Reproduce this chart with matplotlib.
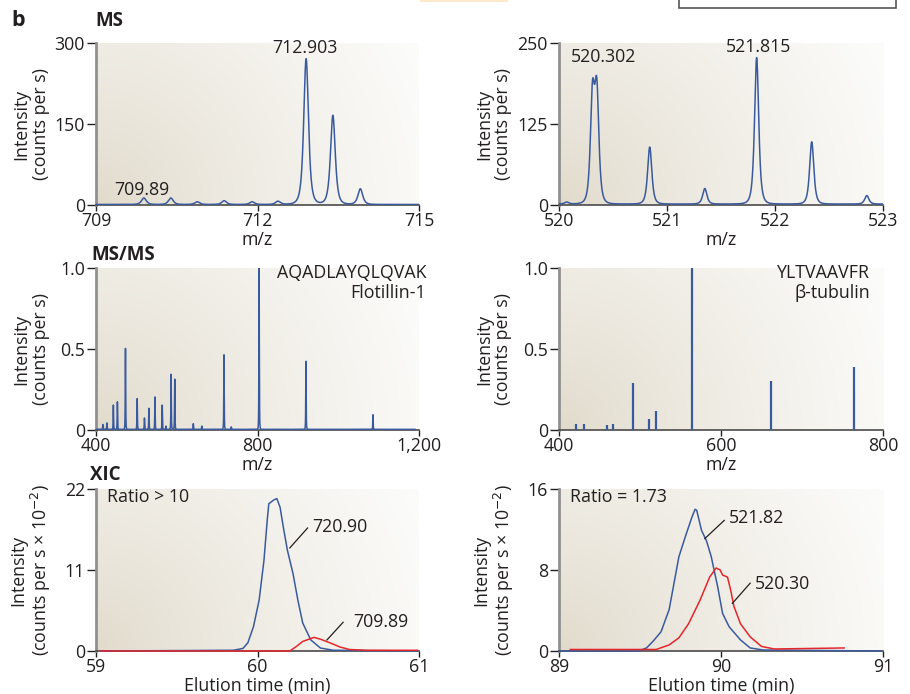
import numpy as np
import matplotlib.pyplot as plt
from matplotlib.patches import Rectangle

plt.rcParams['font.family'] = ['Open Sans', 'DejaVu Sans']
plt.rcParams['font.size'] = 12.8

INK = '#231f20'
BLUE = '#3a5a9e'
RED = '#e5262b'

# MS survey scans: peak centroids (m/z) and heights (counts per s)
ms_left_mz = [709.89, 710.39, 710.88, 711.38, 711.90, 712.38, 712.903, 713.40, 713.91]
ms_left_int = [12, 12, 5, 7, 5, 6, 270, 165, 29]
ms_right_mz = [520.07, 520.31, 520.35, 520.84, 521.35, 521.83, 522.34, 522.85]
ms_right_int = [3, 160, 165, 88, 24, 226, 96, 13]

# MS/MS fragment spectra (relative intensity)
msms_left_mz = [417, 427, 443, 453, 473, 502, 520, 531, 546, 564, 573, 586, 595,
                641, 662, 717, 735, 804, 920, 1086]
msms_left_int = [0.03, 0.04, 0.15, 0.17, 0.50, 0.19, 0.07, 0.13, 0.20, 0.15, 0.02,
                 0.34, 0.31, 0.035, 0.02, 0.46, 0.015, 1.0, 0.42, 0.09]
msms_right_mz = [420.6, 430.5, 459.4, 466.4, 491.5, 511.3, 520.0, 564.5, 661.9, 763.7]
msms_right_int = [0.04, 0.04, 0.03, 0.035, 0.29, 0.07, 0.12, 1.0, 0.30, 0.39]

# XIC traces (elution time in min, intensity in counts per s x 1e-2)
xic_left_t_720 = [59.03, 59.85, 59.91, 59.94, 59.975, 60.01, 60.04, 60.06, 60.07, 60.10,
                  60.12, 60.14, 60.16, 60.185, 60.22, 60.25, 60.28, 60.33, 60.39, 60.47, 60.99]
xic_left_i_720 = [0, 0.1, 0.35, 1.1, 3.3, 6.9, 12.3, 17.7, 20.0, 20.5,
                  20.7, 19.5, 16.8, 13.7, 10.5, 6.9, 3.8, 1.5, 0.4, 0.1, 0]
xic_left_t_709 = [59.03, 60.20, 60.24, 60.28, 60.35, 60.39, 60.45, 60.51, 60.57, 60.68, 60.99]
xic_left_i_709 = [0, 0, 0.6, 1.3, 1.85, 1.6, 1.1, 0.55, 0.2, 0.1, 0.1]

xic_right_t_521 = [89.0, 89.49, 89.54, 89.58, 89.63, 89.68, 89.74, 89.78, 89.82, 89.84, 89.85,
                   89.88, 89.91, 89.94, 89.98, 90.01, 90.05, 90.12, 90.18, 90.26, 90.99]
xic_right_i_521 = [0, 0, 0.3, 0.95, 1.9, 4.1, 9.3, 11.3, 13.2, 14.0, 13.9,
                   11.9, 10.9, 9.3, 6.3, 3.7, 2.4, 1.1, 0.3, 0.1, 0]
xic_right_t_520 = [89.07, 89.6, 89.68, 89.74, 89.80, 89.87, 89.93, 89.97, 89.995, 90.01,
                   90.04, 90.06, 90.08, 90.12, 90.18, 90.25, 90.33, 90.76]
xic_right_i_520 = [0.15, 0.15, 0.6, 1.3, 2.7, 5.0, 7.3, 8.2, 8.0, 7.5,
                   7.3, 6.0, 4.4, 2.7, 1.4, 0.45, 0.2, 0.3]

W, H = 910, 694
fig = plt.figure(figsize=(W / 100, H / 100), dpi=100)


def backdrop(rect, wpx, hpx):
    bg = fig.add_axes(rect, zorder=0)
    yy, xx = np.mgrid[0:1:160j, 0:1:320j]
    r = np.hypot(xx * wpx, yy * hpx) / np.hypot(wpx, hpx)
    t = np.clip(r / 0.95, 0, 1)[..., None] ** 0.8
    c0 = np.array([225, 218, 203]) / 255
    c1 = np.array([251, 251, 249]) / 255
    bg.imshow(c0 * (1 - t) + c1 * t, origin='lower', aspect='auto',
              extent=(0, 1, 0, 1), interpolation='bilinear')
    bg.axis('off')


def panel(x0, y0, x1, y1):
    rect = [x0 / W, 1 - y1 / H, (x1 - x0) / W, (y1 - y0) / H]
    backdrop(rect, x1 - x0, y1 - y0)
    ax = fig.add_axes(rect, zorder=1)
    ax.patch.set_alpha(0)
    ax.spines['top'].set_visible(False)
    ax.spines['right'].set_visible(False)
    ax.spines['left'].set_color('#909090')
    ax.spines['left'].set_linewidth(2.0)
    ax.spines['bottom'].set_color('#4a4a4a')
    ax.spines['bottom'].set_linewidth(1.2)
    ax.tick_params(axis='y', length=6.5, width=1, color=INK, pad=1.5, labelcolor=INK)
    ax.tick_params(axis='x', length=4, width=1, color=INK, pad=1.0, labelcolor=INK)
    return ax


def profile(x, centres, heights, width, base):
    y = np.full_like(x, base)
    for c, h in zip(centres, heights):
        y += h / (1 + ((x - c) / width) ** 2) ** 2
    return y


def labels(ax, xlabel, ylabel):
    ax.set_xlabel(xlabel, color=INK, va='center')
    ax.set_ylabel(ylabel, color=INK, va='center', linespacing=1.1)
    ax.xaxis.set_label_coords(0.5, -0.215)
    ax.yaxis.set_label_coords(-65 / 323, 0.5)


# ---- MS row
ax = panel(96, 43, 419, 205)
x = np.linspace(709, 715, 4000)
ax.plot(x, profile(x, ms_left_mz, ms_left_int, 0.08, 1), color=BLUE, lw=1.1, zorder=3)
ax.set_xlim(709, 715)
ax.set_ylim(0, 300)
ax.set_xticks([709, 712, 715])
ax.set_yticks([0, 150, 300])
ax.text(712.877, 290, '712.903', ha='center', va='center', color=INK)
ax.text(709.855, 28, '709.89', ha='center', va='center', color=INK)
labels(ax, 'm/z', 'Intensity\n(counts per s)')

ax = panel(559, 43, 883, 205)
x = np.linspace(520, 523, 4000)
ax.plot(x, profile(x, ms_right_mz, ms_right_int, 0.035, 1.5), color=BLUE, lw=1.1, zorder=3)
ax.set_xlim(520, 523)
ax.set_ylim(0, 250)
ax.set_xticks([520, 521, 522, 523])
ax.set_yticks([0, 125, 250])
ax.text(520.41, 229, '520.302', ha='center', va='center', color=INK)
ax.text(521.85, 244, '521.815', ha='center', va='center', color=INK)
labels(ax, 'm/z', 'Intensity\n(counts per s)')

# ---- MS/MS row
ax = panel(96, 268, 419, 430)
x = np.linspace(400, 1190, 16000)
ax.plot(x, profile(x, msms_left_mz, msms_left_int, 0.9, 0.004), color=BLUE, lw=1.1, zorder=3)
ax.set_xlim(400, 1200)
ax.set_ylim(0, 1.0)
ax.set_xticks([400, 800, 1200])
ax.set_xticklabels(['400', '800', '1,200'])
ax.set_yticks([0, 0.5, 1.0])
ax.set_yticklabels(['0', '0.5', '1.0'])
ax.text(1.022, 0.969, 'AQADLAYQLQVAK', transform=ax.transAxes, ha='right', va='center', color=INK)
ax.text(1.022, 0.846, 'Flotillin-1', transform=ax.transAxes, ha='right', va='center', color=INK)
labels(ax, 'm/z', 'Intensity\n(counts per s)')

ax = panel(559, 268, 883, 430)
ax.vlines(msms_right_mz, 0, msms_right_int, color=BLUE, lw=1.6, zorder=3)
ax.set_xlim(400, 800)
ax.set_ylim(0, 1.0)
ax.set_xticks([400, 600, 800])
ax.set_yticks([0, 0.5, 1.0])
ax.set_yticklabels(['0', '0.5', '1.0'])
ax.text(0.96, 0.969, 'YLTVAAVFR', transform=ax.transAxes, ha='right', va='center', color=INK)
ax.text(0.96, 0.846, 'β-tubulin', transform=ax.transAxes, ha='right', va='center', color=INK)
labels(ax, 'm/z', 'Intensity\n(counts per s)')

# ---- XIC row
xic_ylabel = 'Intensity\n(counts per s × 10$^{-2}$)'

ax = panel(96, 489, 419, 651)
ax.plot(xic_left_t_720, xic_left_i_720, color=BLUE, lw=1.1, zorder=3, clip_on=False)
ax.plot(xic_left_t_709, xic_left_i_709, color=RED, lw=1.1, zorder=4, clip_on=False)
ax.set_xlim(59, 61)
ax.set_ylim(0, 22)
ax.set_xticks([59, 60, 61])
ax.set_yticks([0, 11, 22])
ax.plot([60.20, 60.31], [14.0, 16.7], color=INK, lw=0.9, zorder=5)
ax.text(60.34, 16.8, '720.90', ha='left', va='center', color=INK)
ax.plot([60.43, 60.53], [1.5, 3.9], color=INK, lw=0.9, zorder=5)
ax.text(60.59, 3.9, '709.89', ha='left', va='center', color=INK)
ax.text(0.034, 0.95, 'Ratio > 10', transform=ax.transAxes, ha='left', va='center', color=INK)
labels(ax, 'Elution time (min)', xic_ylabel)

ax = panel(559, 489, 883, 651)
ax.plot(xic_right_t_521, xic_right_i_521, color=BLUE, lw=1.1, zorder=3, clip_on=False)
ax.plot(xic_right_t_520, xic_right_i_520, color=RED, lw=1.1, zorder=4, clip_on=False)
ax.set_xlim(89, 91)
ax.set_ylim(0, 16)
ax.set_xticks([89, 90, 91])
ax.set_yticks([0, 8, 16])
ax.plot([89.90, 90.02], [11.1, 12.9], color=INK, lw=0.9, zorder=5)
ax.text(90.05, 13.1, '521.82', ha='left', va='center', color=INK)
ax.plot([90.07, 90.18], [4.7, 6.7], color=INK, lw=0.9, zorder=5)
ax.text(90.21, 6.6, '520.30', ha='left', va='center', color=INK)
ax.text(0.034, 0.95, 'Ratio = 1.73', transform=ax.transAxes, ha='left', va='center', color=INK)
labels(ax, 'Elution time (min)', xic_ylabel)

# ---- panel headings
fig.text(11 / W, 1 - 20 / H, 'b', fontsize=15.5, fontweight='bold', color=INK, va='center')
fig.text(95 / W, 1 - 21 / H, 'MS', fontsize=13.5, fontweight='bold', color=INK, va='center')
fig.text(91 / W, 1 - 255 / H, 'MS/MS', fontsize=13.5, fontweight='bold', color=INK, va='center')
fig.text(90 / W, 1 - 475 / H, 'XIC', fontsize=13.5, fontweight='bold', color=INK, va='center')

# fragments of neighbouring panels cut at the top edge
fig.patches.append(Rectangle((420 / W, 1 - 2 / H), 88 / W, 3 / H, transform=fig.transFigure,
                             facecolor='#fde8cc', edgecolor='none'))
fig.patches.append(Rectangle((679 / W, 1 - 8 / H), 217 / W, 20 / H, transform=fig.transFigure,
                             facecolor='white', edgecolor='#555555', lw=1.2))

fig.savefig('out.png', dpi=100)
